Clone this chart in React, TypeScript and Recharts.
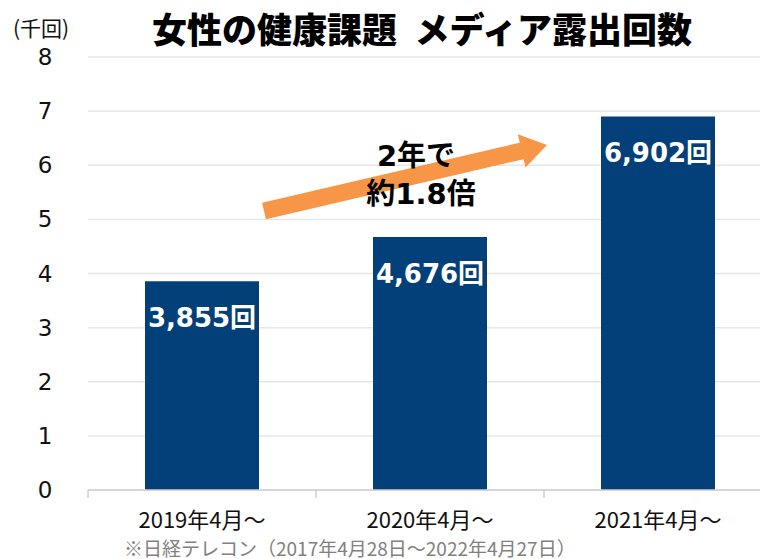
import React from 'react';
import { BarChart, Bar, XAxis, YAxis, CartesianGrid, LabelList, Customized } from 'recharts';

// data
const periods = ['2019年4月～', '2020年4月～', '2021年4月～'];
const counts = [3855, 4676, 6902];
const yTicks = [0, 1, 2, 3, 4, 5, 6, 7, 8];

const title = '女性の健康課題\u2002メディア露出回数';
const unitLabel = '(千回)';
const arrowText = ['2年で', '約1.8倍'];
const footnote = '※日経テレコン（2017年4月28日～2022年4月27日）';

const chartData = periods.map((p, i) => ({
  name: p,
  value: counts[i] / 1000,
  count: counts[i],
}));

// layout
const CHART_W = 780;
const CHART_H = 559;
const PLOT_LEFT = 88;
const PLOT_TOP = 57;
const PLOT_BOTTOM = 490;
const PLOT_RIGHT = 772;
const CAT_W = (PLOT_RIGHT - PLOT_LEFT) / periods.length;

const BAR_COLOR = '#033F78';
const ARROW_COLOR = '#F79646';
const CJK = '"Noto Sans CJK JP", "Noto Sans", sans-serif';
const NUM = '"DejaVu Sans", "Noto Sans CJK JP", sans-serif';

const YTick = (props: any) => {
  const { y, payload } = props;
  return (
    <text x={45} y={y} textAnchor="middle" dominantBaseline="central" fontSize={23} fontFamily={NUM} fill="#111">
      {payload.value}
    </text>
  );
};

const XTick = (props: any) => {
  const { x, payload } = props;
  return (
    <text x={x} y={PLOT_BOTTOM + 28} textAnchor="middle" dominantBaseline="central" fontSize={22} fontFamily={CJK} fill="#111">
      {payload.value}
    </text>
  );
};

const BarLabel = (props: any) => {
  const { x, y, width, index } = props;
  return (
    <text
      x={x + width / 2}
      y={y + 37}
      textAnchor="middle"
      dominantBaseline="central"
      fontSize={26}
      fontWeight="bold"
      fontFamily={NUM}
      fill="#fff"
    >
      {counts[index].toLocaleString('en-US') + '回'}
    </text>
  );
};

// arrow annotation + boundary tick marks
const Overlay = () => {
  const tail = { x: 264, y: 211 };
  const tip = { x: 547, y: 145 };
  const dx = tip.x - tail.x;
  const dy = tip.y - tail.y;
  const len = Math.sqrt(dx * dx + dy * dy);
  const ux = dx / len;
  const uy = dy / len;
  const nx = -uy;
  const ny = ux;
  const shaft = 8.5;
  const head = 17;
  const headLen = 26;
  const pt = (a: number, b: number) => `${tail.x + ux * a + nx * b},${tail.y + uy * a + ny * b}`;
  const pts = [
    pt(0, -shaft),
    pt(len - headLen, -shaft),
    pt(len - headLen, -head),
    pt(len, 0),
    pt(len - headLen, head),
    pt(len - headLen, shaft),
    pt(0, shaft),
  ].join(' ');

  return (
    <g>
      {periods.concat(['']).map((_, i) => (
        <line
          key={i}
          x1={PLOT_LEFT + i * CAT_W}
          x2={PLOT_LEFT + i * CAT_W}
          y1={PLOT_BOTTOM}
          y2={PLOT_BOTTOM + 8}
          stroke="#d0d0d0"
          strokeWidth={1.5}
        />
      ))}
      <polygon points={pts} fill={ARROW_COLOR} />
      <text x={416} y={156} textAnchor="middle" dominantBaseline="central" fontSize={29} fontWeight="bold" fontFamily={NUM} fill="#000">
        {arrowText[0]}
      </text>
      <text x={421} y={194} textAnchor="middle" dominantBaseline="central" fontSize={29} fontWeight="bold" fontFamily={NUM} fill="#000">
        {arrowText[1]}
      </text>
    </g>
  );
};

const App: React.FC = () => {
  return (
    <div style={{ position: 'absolute', left: 0, top: 0, width: 760, height: 559, overflow: 'hidden', background: '#fff' }}>
      <div
        style={{
          position: 'absolute',
          left: 0,
          top: 28,
          width: 760,
          textAlign: 'center',
          transform: 'translateY(-50%)',
          paddingLeft: 84,
          boxSizing: 'border-box',
          fontFamily: CJK,
          fontWeight: 900,
          fontSize: 35,
          lineHeight: 1.2,
          color: '#000',
          whiteSpace: 'pre',
        }}
      >
        {title}
      </div>
      <div
        style={{
          position: 'absolute',
          left: 13,
          top: 28,
          transform: 'translateY(-50%)',
          fontFamily: CJK,
          fontSize: 21,
          lineHeight: 1.2,
          color: '#111',
        }}
      >
        {unitLabel}
      </div>
      <div
        style={{
          position: 'absolute',
          left: 124,
          top: 547,
          transform: 'translateY(-50%)',
          fontFamily: CJK,
          fontSize: 19,
          lineHeight: 1,
          color: '#808080',
          whiteSpace: 'nowrap',
        }}
      >
        {footnote}
      </div>
      <div style={{ position: 'absolute', left: 0, top: 0 }}>
        <BarChart
          width={CHART_W}
          height={CHART_H}
          data={chartData}
          margin={{ top: PLOT_TOP, right: CHART_W - PLOT_RIGHT, left: 0, bottom: CHART_H - PLOT_BOTTOM - 40 }}
          barCategoryGap="25%"
        >
          <CartesianGrid vertical={false} stroke="#e6e6e6" strokeWidth={1.5} />
          <XAxis
            dataKey="name"
            height={40}
            axisLine={{ stroke: '#d0d0d0', strokeWidth: 1.5 }}
            tickLine={false}
            tick={<XTick />}
            interval={0}
          />
          <YAxis
            width={PLOT_LEFT}
            domain={[0, 8]}
            ticks={yTicks}
            axisLine={false}
            tickLine={false}
            tick={<YTick />}
          />
          <Bar dataKey="value" fill={BAR_COLOR} isAnimationActive={false}>
            <LabelList dataKey="count" content={<BarLabel />} />
          </Bar>
          <Customized component={<Overlay />} />
        </BarChart>
      </div>
    </div>
  );
};

export default App;
